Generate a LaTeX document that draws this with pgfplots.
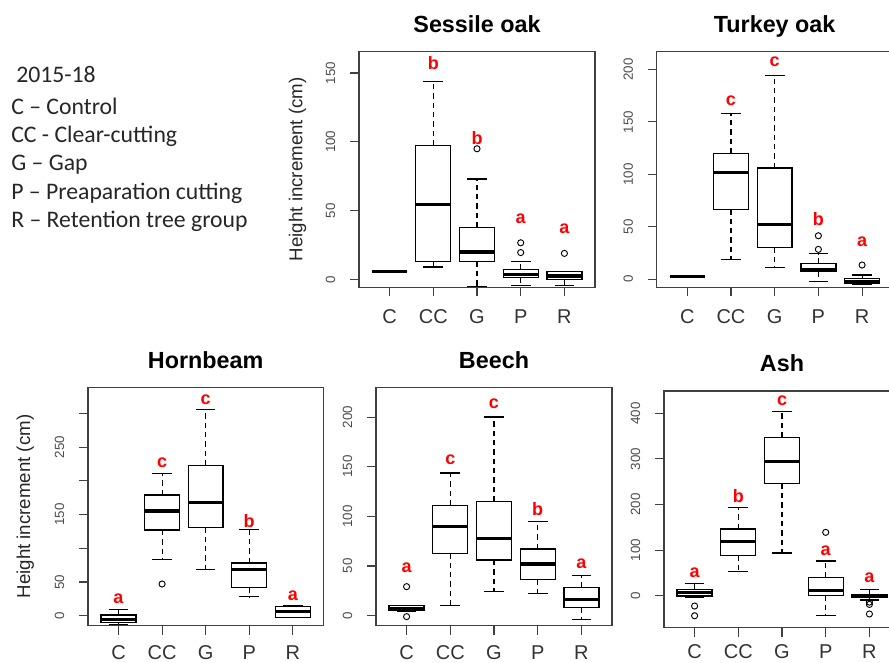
\documentclass[border=0pt]{standalone}
\usepackage{fontspec}
\setmainfont{Liberation Sans}
\newfontfamily\calibri{Carlito}
\usepackage{pgfplots}
\pgfplotsset{compat=1.18}
\usepgfplotslibrary{statistics}
\definecolor{axgray}{gray}{0.25}
\tikzset{lett/.style={text=red, font=\bfseries\fontsize{13.5}{15}\selectfont, inner sep=0pt}}
\pgfplotsset{
  rbox/.style={
    scale only axis, width=177pt, height=177pt,
    xmin=0.3, xmax=5.7, enlargelimits=false,
    xtick={1,2,3,4,5}, xticklabels={C,CC,G,P,R},
    tick align=outside, xtick pos=bottom, ytick pos=left,
    major tick length=6.75pt,
    tick style={axgray, line width=0.8pt},
    axis line style={axgray, line width=1pt},
    xticklabel style={font=\fontsize{15}{17}\selectfont, text=black!80, yshift=-6.5pt},
    yticklabel style={font=\fontsize{10}{11}\selectfont, xshift=-7.5pt, rotate=90, anchor=south, text=black!70},
    /pgf/number format/assume math mode=true,
    every axis title/.style={font=\bfseries\fontsize{17.5}{20}\selectfont, at={(axis description cs:0.5,1)}, anchor=base, yshift=14.3pt},
    every axis y label/.style={font=\fontsize{14}{16}\selectfont, text=black!85, at={([xshift=-46pt]axis description cs:0,0.5)}, rotate=90, anchor=center},
    clip=false,
    boxplot/draw direction=y,
    boxplot/box extend=0.8,
    boxplot/whisker extend=0.45,
    boxplot/every box/.style={draw=black, line width=1pt},
    boxplot/every median/.style={draw=black, line width=2.3pt},
    boxplot/draw/lower whisker/.code={%
      \draw[black, line width=0.8pt, dash pattern=on 4pt off 3pt]
        (boxplot box cs:\pgfplotsboxplotvalue{lower quartile},0.5) --
        (boxplot box cs:\pgfplotsboxplotvalue{lower whisker},0.5);
      \draw[black, line width=1pt]
        (boxplot whisker cs:\pgfplotsboxplotvalue{lower whisker},0) --
        (boxplot whisker cs:\pgfplotsboxplotvalue{lower whisker},1);
    },
    boxplot/draw/upper whisker/.code={%
      \draw[black, line width=0.8pt, dash pattern=on 4pt off 3pt]
        (boxplot box cs:\pgfplotsboxplotvalue{upper quartile},0.5) --
        (boxplot box cs:\pgfplotsboxplotvalue{upper whisker},0.5);
      \draw[black, line width=1pt]
        (boxplot whisker cs:\pgfplotsboxplotvalue{upper whisker},0) --
        (boxplot whisker cs:\pgfplotsboxplotvalue{upper whisker},1);
    },
  },
  lowrow/.style={xticklabel style={yshift=1.6pt}},
  bx/.style={black, mark=o, mark size=2.3pt, mark options={solid, black, line width=0.7pt}, boxplot prepared={#1}},
}
\begin{document}
\begin{tikzpicture}
\useasboundingbox (0,0) rectangle (666.75pt,497.25pt);

% ---------- Sessile oak ----------
\begin{axis}[rbox, at={(269.25pt,281.8pt)}, anchor=south west,
  ymin=-5.6, ymax=165.8, ytick={0,50,100,150},
  title={Sessile oak}, ylabel={Height increment (cm)}]
\addplot[bx={draw position=1, lower whisker=6, lower quartile=6, median=6, upper quartile=6, upper whisker=6}] coordinates {};
\addplot[bx={draw position=2, lower whisker=9, lower quartile=13, median=54.5, upper quartile=97.5, upper whisker=144}] coordinates {};
\addplot[bx={draw position=3, lower whisker=-5, lower quartile=13, median=20, upper quartile=38, upper whisker=73}] table[row sep=\\, y index=0] {data\\ 95\\};
\addplot[bx={draw position=4, lower whisker=-4.5, lower quartile=1.5, median=3.9, upper quartile=7.3, upper whisker=13.3}] table[row sep=\\, y index=0] {data\\ 19.6\\ 26.7\\};
\addplot[bx={draw position=5, lower whisker=-4.1, lower quartile=0, median=2.6, upper quartile=6, upper whisker=6}] table[row sep=\\, y index=0] {data\\ 19\\};
\node[lett] at (axis cs:2,157) {b};
\node[lett] at (axis cs:3,103) {b};
\node[lett] at (axis cs:4,44.3) {a};
\node[lett] at (axis cs:5,37) {a};
\end{axis}

% ---------- Turkey oak ----------
\begin{axis}[rbox, at={(492.5pt,281.8pt)}, anchor=south west,
  ymin=-7.6, ymax=217.4, ytick={0,50,100,150,200},
  title={Turkey oak}]
\addplot[bx={draw position=1, lower whisker=2.5, lower quartile=2.5, median=2.5, upper quartile=2.5, upper whisker=2.5}] coordinates {};
\addplot[bx={draw position=2, lower whisker=19, lower quartile=66.6, median=101.5, upper quartile=120, upper whisker=158}] coordinates {};
\addplot[bx={draw position=3, lower whisker=11.5, lower quartile=30.5, median=52, upper quartile=106, upper whisker=194}] coordinates {};
\addplot[bx={draw position=4, lower whisker=-2, lower quartile=7.5, median=9.5, upper quartile=15, upper whisker=24.5}] table[row sep=\\, y index=0] {data\\ 28.5\\ 41.5\\};
\addplot[bx={draw position=5, lower whisker=-5, lower quartile=-4, median=-2, upper quartile=0.5, upper whisker=4}] table[row sep=\\, y index=0] {data\\ 13.6\\};
\node[lett] at (axis cs:2,170.5) {c};
\node[lett] at (axis cs:3,207) {c};
\node[lett] at (axis cs:4,57.2) {b};
\node[lett] at (axis cs:5,36.2) {a};
\end{axis}

% ---------- Hornbeam ----------
\begin{axis}[rbox, lowrow, at={(66pt,28pt)}, anchor=south west, width=176.5pt, height=178.8pt,
  ymin=-14.8, ymax=339, ytick={0,50,100,150,200,250,300}, yticklabels={0,50,{},150,{},250,{}},
  title={Hornbeam}, ylabel={Height increment (cm)},
  every axis y label/.append style={at={([xshift=-47pt]axis description cs:0,0.5)}}]
\addplot[bx={draw position=1, lower whisker=-13, lower quartile=-10, median=-6, upper quartile=1, upper whisker=9.5}] coordinates {};
\addplot[bx={draw position=2, lower whisker=83.7, lower quartile=127, median=155.4, upper quartile=179, upper whisker=211}] table[row sep=\\, y index=0] {data\\ 47\\};
\addplot[bx={draw position=3, lower whisker=68.9, lower quartile=131, median=167.8, upper quartile=223, upper whisker=306}] coordinates {};
\addplot[bx={draw position=4, lower whisker=28, lower quartile=42, median=68.5, upper quartile=78, upper whisker=128}] coordinates {};
\addplot[bx={draw position=5, lower whisker=-3, lower quartile=-2.4, median=6, upper quartile=13.4, upper whisker=15.4}] coordinates {};
\node[lett] at (axis cs:1,24.5) {a};
\node[lett] at (axis cs:2,227.7) {c};
\node[lett] at (axis cs:3,320.2) {c};
\node[lett] at (axis cs:4,140.9) {b};
\node[lett] at (axis cs:5,30.3) {a};
\end{axis}

% ---------- Beech ----------
\begin{axis}[rbox, lowrow, at={(282pt,28pt)}, anchor=south west, height=178.8pt,
  ymin=-10.1, ymax=230, ytick={0,50,100,150,200},
  title={Beech}]
\addplot[bx={draw position=1, lower whisker=4.5, lower quartile=5, median=7.4, upper quartile=10, upper whisker=10.5}] table[row sep=\\, y index=0] {data\\ 29.2\\ -1\\};
\addplot[bx={draw position=2, lower whisker=10, lower quartile=62.9, median=90, upper quartile=111, upper whisker=143.5}] coordinates {};
\addplot[bx={draw position=3, lower whisker=24.2, lower quartile=56, median=78, upper quartile=115, upper whisker=200}] coordinates {};
\addplot[bx={draw position=4, lower whisker=22.6, lower quartile=36.7, median=52, upper quartile=67, upper whisker=94.8}] coordinates {};
\addplot[bx={draw position=5, lower whisker=-3.7, lower quartile=8.5, median=15.8, upper quartile=28.2, upper whisker=40.3}] coordinates {};
\node[lett] at (axis cs:1,48.6) {a};
\node[lett] at (axis cs:2,157) {c};
\node[lett] at (axis cs:3,213.2) {c};
\node[lett] at (axis cs:4,107.4) {b};
\node[lett] at (axis cs:5,52.3) {a};
\end{axis}

% ---------- Ash ----------
\begin{axis}[rbox, lowrow, at={(498pt,26.5pt)}, anchor=south west, height=177.5pt,
  xticklabel style={yshift=2.6pt},
  ymin=-70, ymax=449, ytick={0,100,200,300,400},
  title={Ash}]
\addplot[bx={draw position=1, lower whisker=-4.4, lower quartile=-0.7, median=8, upper quartile=14, upper whisker=27}] table[row sep=\\, y index=0] {data\\ -22.6\\ -43.9\\};
\addplot[bx={draw position=2, lower whisker=53.5, lower quartile=88, median=118.5, upper quartile=146, upper whisker=194}] coordinates {};
\addplot[bx={draw position=3, lower whisker=94, lower quartile=246, median=294, upper quartile=347.5, upper whisker=404.5}] coordinates {};
\addplot[bx={draw position=4, lower whisker=-44, lower quartile=0, median=11, upper quartile=40.4, upper whisker=76}] table[row sep=\\, y index=0] {data\\ 139\\};
\addplot[bx={draw position=5, lower whisker=-9, lower quartile=-4, median=-0.7, upper quartile=3, upper whisker=14}] table[row sep=\\, y index=0] {data\\ -14\\ -19\\ -40\\};
\node[lett] at (axis cs:1,50.9) {a};
\node[lett] at (axis cs:2,218) {b};
\node[lett] at (axis cs:3,428) {c};
\node[lett] at (axis cs:4,98.5) {a};
\node[lett] at (axis cs:5,38.8) {a};
\end{axis}

% ---------- legend text ----------
\begin{scope}[every node/.style={anchor=base west, inner sep=0pt, text=black!85, font=\calibri\fontsize{17.8}{20}\selectfont}]
\node at (12pt,435pt) {2015-18};
\node at (8.25pt,411.5pt) {C – Control};
\node at (8.25pt,390pt) {CC - Clear-cutting};
\node at (8.25pt,369pt) {G – Gap};
\node at (8.25pt,347.25pt) {P – Preaparation cutting};
\node at (8.25pt,326.25pt) {R – Retention tree group};
\end{scope}
\end{tikzpicture}
\end{document}
